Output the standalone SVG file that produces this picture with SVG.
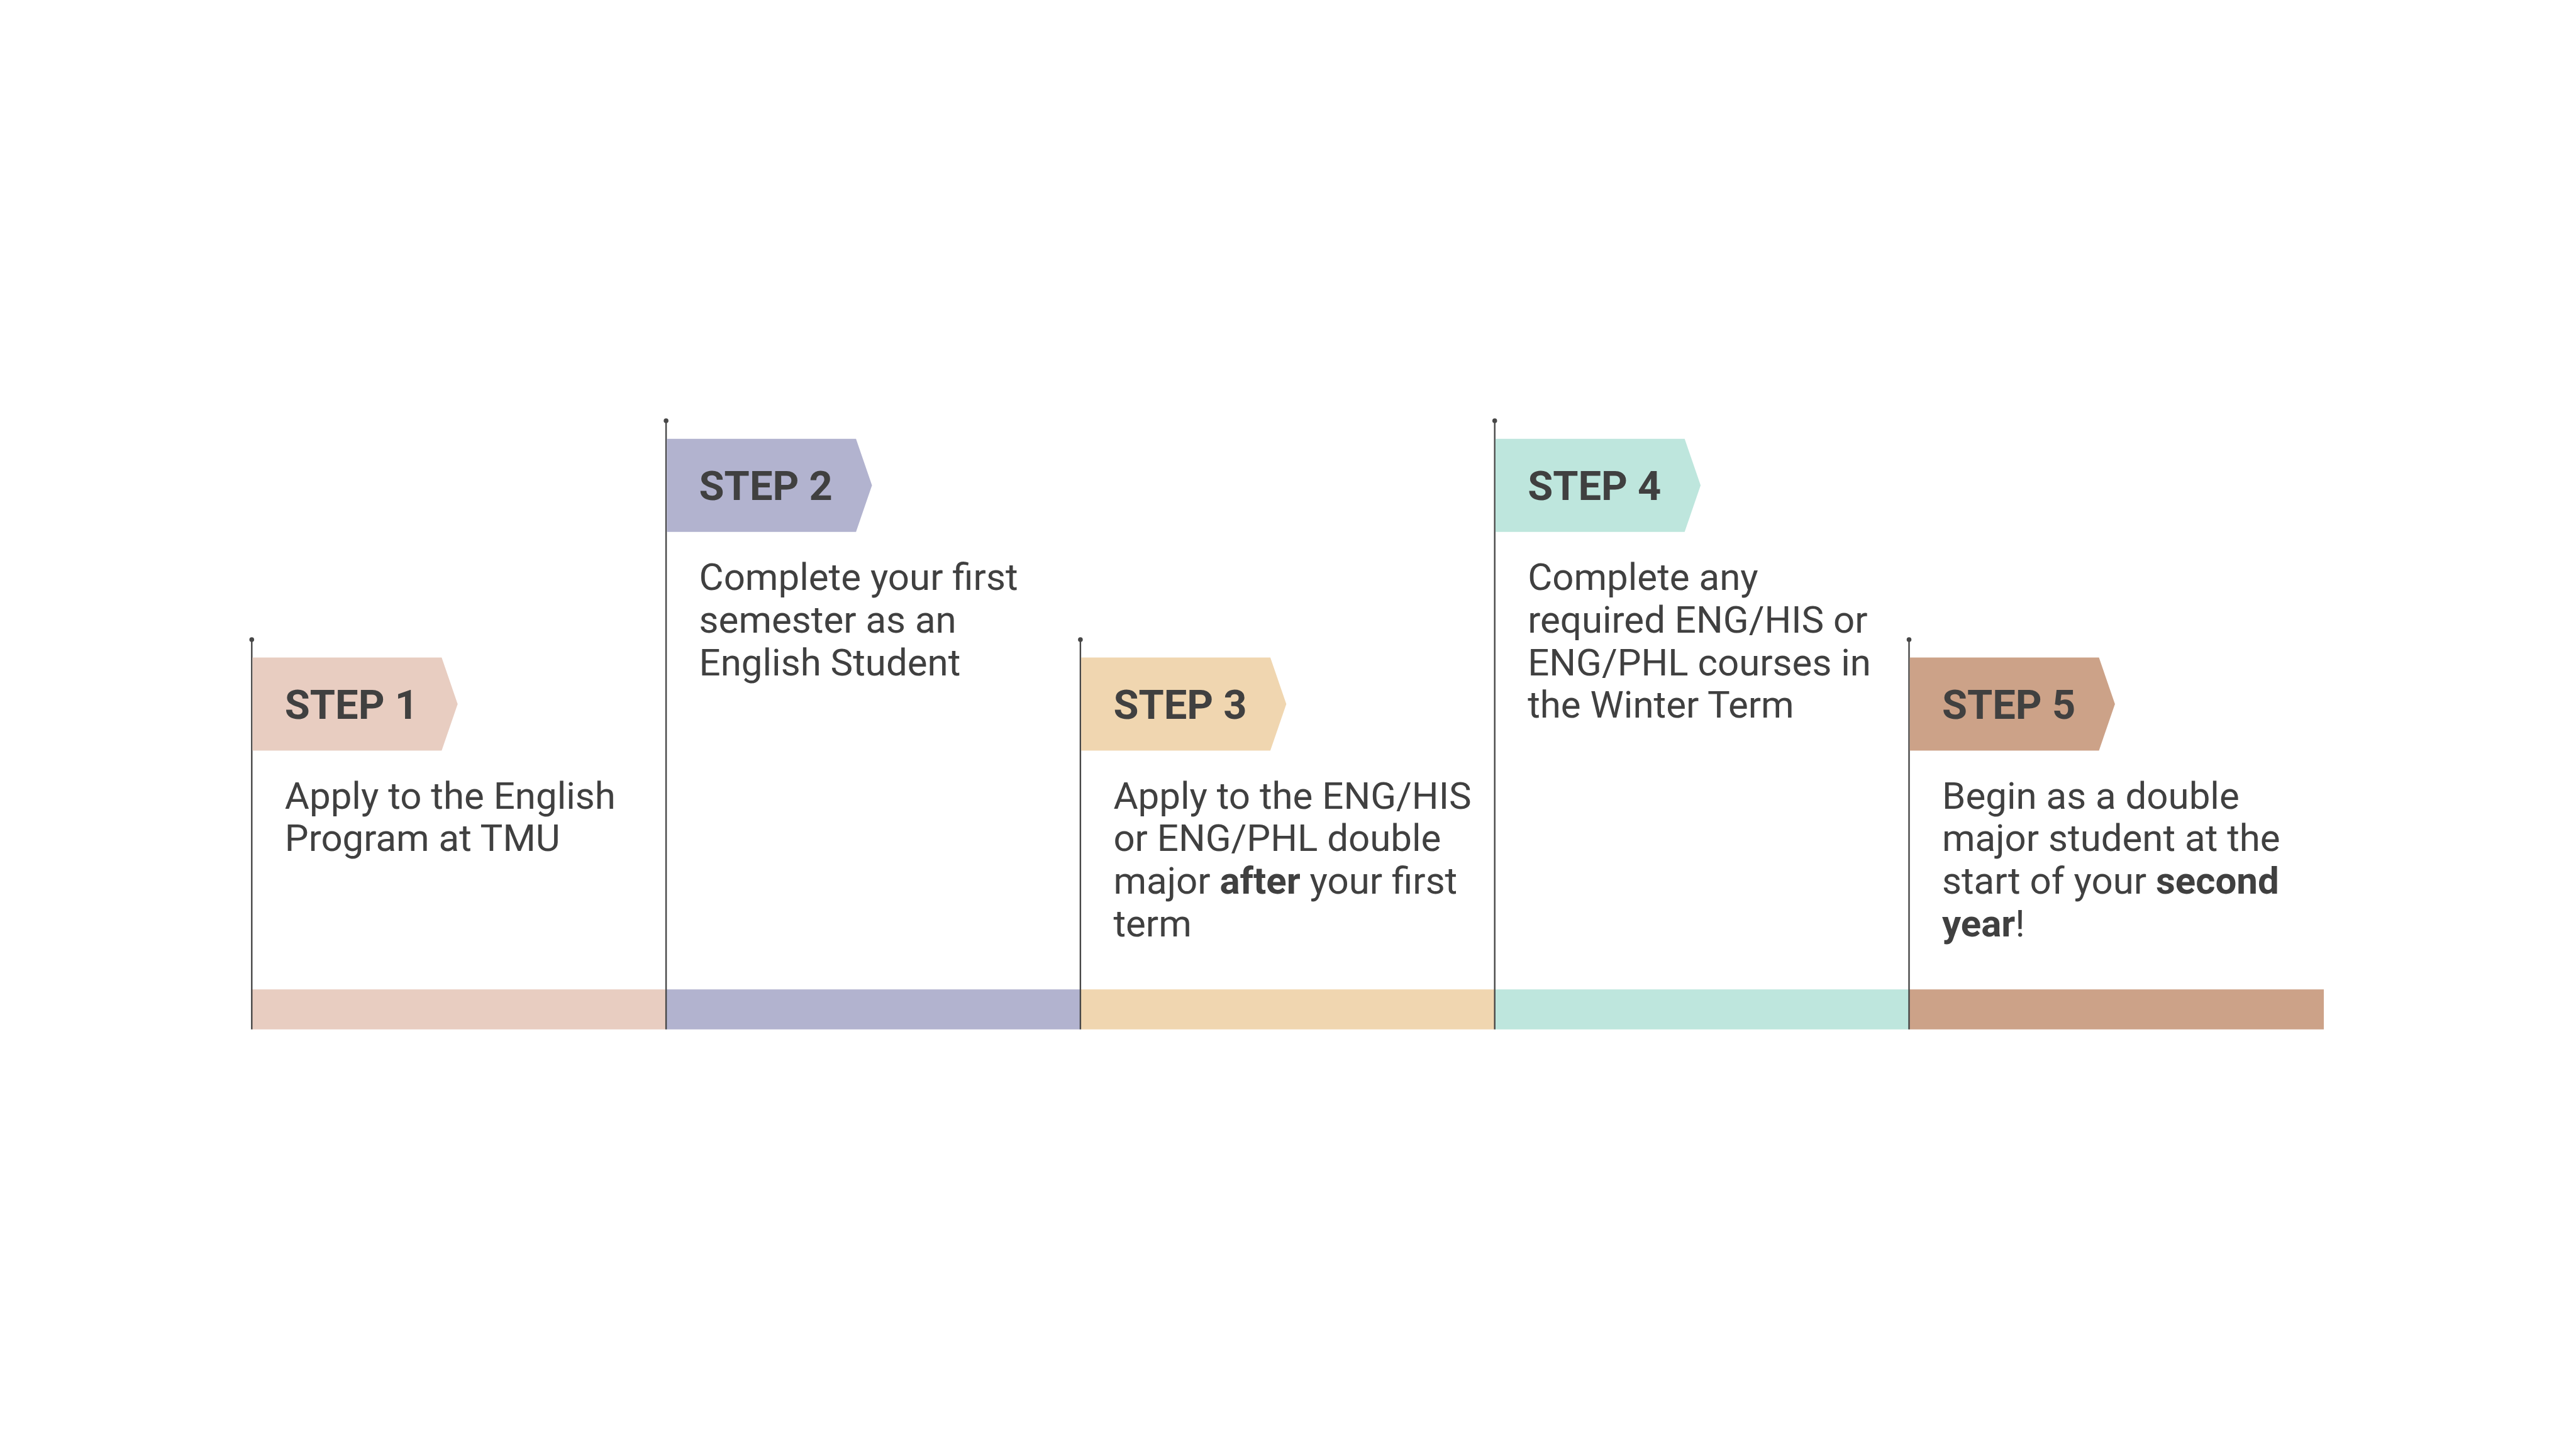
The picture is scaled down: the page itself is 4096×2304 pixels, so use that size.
<svg xmlns="http://www.w3.org/2000/svg" width="4096" height="2304" viewBox="0 0 4096 2304">
<style>
.pole{stroke:#474747;stroke-width:2.4;fill:none}
.dot{fill:#474747}
.lbl{font-family:Roboto,"Liberation Sans",sans-serif;font-weight:700;font-size:65px;fill:#404040}
.txt{font-family:Roboto,"Liberation Sans",sans-serif;font-weight:400;font-size:60px;fill:#404040}
.b{font-weight:700}
.c1{fill:#E8CDC1}.c2{fill:#B2B3CF}.c3{fill:#F0D6B0}.c4{fill:#BEE6DD}.c5{fill:#CCA288}
</style>
<rect width="4096" height="2304" fill="#FFFFFF"/>
<g id="bar">
<rect class="c1" x="400.3" y="1573.2" width="658.8" height="63.6"/>
<rect class="c2" x="1059.1" y="1573.2" width="658.8" height="63.6"/>
<rect class="c3" x="1717.9" y="1573.2" width="658.8" height="63.6"/>
<rect class="c4" x="2376.7" y="1573.2" width="658.8" height="63.6"/>
<rect class="c5" x="3035.5" y="1573.2" width="659.5" height="63.6"/>
</g>
<g id="connectors">
<line class="pole" x1="400.3" y1="1017" x2="400.3" y2="1636.8"/>
<line class="pole" x1="1059.1" y1="669" x2="1059.1" y2="1636.8"/>
<line class="pole" x1="1717.9" y1="1017" x2="1717.9" y2="1636.8"/>
<line class="pole" x1="2376.7" y1="669" x2="2376.7" y2="1636.8"/>
<line class="pole" x1="3035.5" y1="1017" x2="3035.5" y2="1636.8"/>
<circle class="dot" cx="400.3" cy="1017" r="3.8"/>
<circle class="dot" cx="1059.1" cy="669" r="3.8"/>
<circle class="dot" cx="1717.9" cy="1017" r="3.8"/>
<circle class="dot" cx="2376.7" cy="669" r="3.8"/>
<circle class="dot" cx="3035.5" cy="1017" r="3.8"/>
</g>
<g id="step1">
<polygon class="c1" points="401.5,1045.5 702.3,1045.5 727.7,1119.5 702.3,1193.5 401.5,1193.5"/>
<text class="lbl" x="452.8" y="1142.7">STEP 1</text>
<text class="txt" x="452.8" y="1285.5">Apply to the English</text>
<text class="txt" x="452.8" y="1353.4">Program at TMU</text>
</g>
<g id="step2">
<polygon class="c2" points="1060.3,697.7 1361.1,697.7 1386.5,771.7 1361.1,845.7 1060.3,845.7"/>
<text class="lbl" x="1111.6" y="794.9">STEP 2</text>
<text class="txt" x="1111.6" y="937.7">Complete your first</text>
<text class="txt" x="1111.6" y="1005.6">semester as an</text>
<text class="txt" x="1111.6" y="1073.5">English Student</text>
</g>
<g id="step3">
<polygon class="c3" points="1719.1,1045.5 2019.9,1045.5 2045.3,1119.5 2019.9,1193.5 1719.1,1193.5"/>
<text class="lbl" x="1770.4" y="1142.7">STEP 3</text>
<text class="txt" x="1770.4" y="1285.5">Apply to the ENG/HIS</text>
<text class="txt" x="1770.4" y="1353.4">or ENG/PHL double</text>
<text class="txt" x="1770.4" y="1421.3">major <tspan class="b">after</tspan> your first</text>
<text class="txt" x="1770.4" y="1489.2">term</text>
</g>
<g id="step4">
<polygon class="c4" points="2377.9,697.7 2678.7,697.7 2704.1,771.7 2678.7,845.7 2377.9,845.7"/>
<text class="lbl" x="2429.2" y="794.9">STEP 4</text>
<text class="txt" x="2429.2" y="937.7">Complete any</text>
<text class="txt" x="2429.2" y="1005.6">required ENG/HIS or</text>
<text class="txt" x="2429.2" y="1073.5">ENG/PHL courses in</text>
<text class="txt" x="2429.2" y="1141.4">the Winter Term</text>
</g>
<g id="step5">
<polygon class="c5" points="3036.7,1045.5 3337.5,1045.5 3362.9,1119.5 3337.5,1193.5 3036.7,1193.5"/>
<text class="lbl" x="3088" y="1142.7">STEP 5</text>
<text class="txt" x="3088" y="1285.5">Begin as a double</text>
<text class="txt" x="3088" y="1353.4">major student at the</text>
<text class="txt" x="3088" y="1421.3">start of your <tspan class="b">second</tspan></text>
<text class="txt" x="3088" y="1489.2"><tspan class="b">year</tspan>!</text>
</g>
</svg>
